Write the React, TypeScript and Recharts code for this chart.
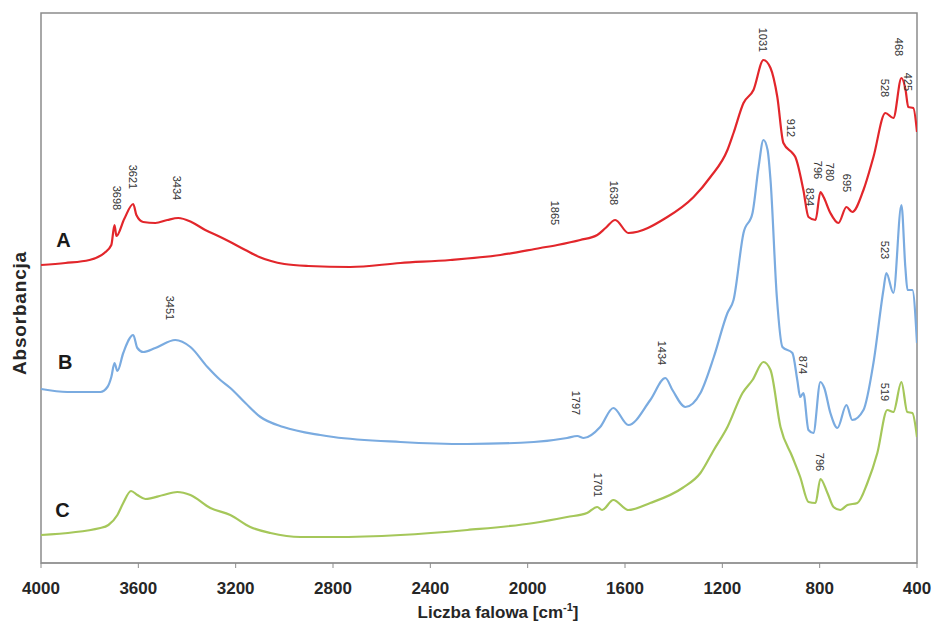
import React from 'react';
import { LineChart, Line, XAxis, YAxis, ReferenceArea, ReferenceDot } from 'recharts';

// Wavenumbers [cm-1] and absorbance (arbitrary, offset) for each spectrum
const wnA = [4000, 3900, 3801, 3740, 3711, 3698, 3690, 3658, 3621, 3608, 3580, 3530, 3481, 3436, 3382, 3325, 3263, 3222, 3160, 3103, 3000, 2901, 2729, 2523, 2318, 2112, 1948, 1878, 1784, 1714, 1680, 1640, 1586, 1426, 1318, 1249, 1179, 1154, 1113, 1072, 1031, 1002, 974, 949, 912, 900, 867, 846, 817, 797, 784, 756, 723, 690, 666, 620, 579, 530, 497, 464, 447, 436, 415, 400];
const absA = [298, 300, 303, 310, 318, 338, 327, 344, 359, 348, 341, 340, 343, 345, 341, 333, 326, 321, 313, 306, 299, 297, 296, 300, 303, 308, 315, 318, 323, 328, 335, 343, 330, 346, 366, 386, 413, 430, 460, 473, 503, 495, 466, 420, 410, 406, 373, 346, 343, 371, 366, 350, 340, 356, 351, 373, 406, 450, 445, 485, 473, 456, 455, 431];

const wnB = [4000, 3892, 3756, 3727, 3711, 3698, 3686, 3662, 3621, 3604, 3580, 3530, 3448, 3386, 3316, 3263, 3222, 3160, 3098, 3004, 2852, 2798, 2523, 2248, 1975, 1838, 1796, 1770, 1702, 1648, 1586, 1496, 1434, 1405, 1352, 1290, 1235, 1179, 1154, 1113, 1076, 1051, 1031, 1014, 1002, 976, 953, 912, 892, 880, 867, 846, 826, 797, 781, 756, 727, 690, 666, 620, 579, 538, 526, 497, 464, 448, 439, 419, 400];
const absB = [174, 171, 171, 176, 186, 200, 192, 210, 228, 215, 211, 215, 223, 216, 196, 183, 175, 160, 146, 136, 128, 126, 121, 119, 121, 125, 127, 125, 136, 155, 138, 163, 185, 173, 156, 170, 206, 250, 263, 330, 350, 396, 423, 413, 383, 266, 216, 210, 183, 166, 170, 133, 130, 181, 175, 150, 135, 158, 143, 153, 200, 273, 290, 270, 358, 296, 273, 273, 220];

const wnC = [4000, 3756, 3723, 3686, 3662, 3630, 3604, 3571, 3497, 3440, 3386, 3304, 3222, 3140, 3057, 2934, 2798, 2523, 2248, 1975, 1838, 1756, 1714, 1694, 1648, 1586, 1496, 1364, 1290, 1235, 1179, 1117, 1076, 1031, 1002, 961, 912, 880, 846, 817, 797, 768, 743, 715, 686, 645, 604, 563, 522, 497, 464, 440, 419, 400];
const absC = [28, 35, 38, 48, 60, 72, 68, 64, 68, 71, 68, 55, 48, 36, 30, 26, 26, 28, 33, 40, 46, 50, 56, 53, 63, 53, 60, 75, 90, 113, 136, 170, 183, 201, 193, 136, 106, 86, 61, 60, 84, 70, 56, 53, 58, 60, 80, 110, 153, 151, 181, 151, 150, 126];

const xTicks = [4000, 3600, 3200, 2800, 2400, 2000, 1600, 1200, 800, 400];

// Peak annotation texts and their anchor (wavenumber, absorbance)
const peakText = ['3698', '3621', '3434', '1865', '1638', '1031', '912', '796', '780', '834', '695', '528', '468', '425', '3451', '1797', '1434', '874', '523', '1701', '796', '519'];
const peakWn = [3686, 3620, 3440, 1886, 1644, 1031, 916, 805, 756, 838, 686, 530, 472, 435, 3468, 1800, 1446, 867, 530, 1709, 797, 530];
const peakAbs = [365, 386, 375, 350, 370, 523, 435, 393, 391, 366, 380, 475, 516, 481, 255, 160, 210, 198, 313, 78, 101, 171];

const seriesNames = ['A', 'B', 'C'];
const seriesLabelWn = [3908, 3900, 3912];
const seriesLabelAbs = [323, 201, 53];

const zip = (w: number[], a: number[]) => w.map((wn, i) => ({ wn, abs: a[i] }));
const dataA = zip(wnA, absA);
const dataB = zip(wnB, absB);
const dataC = zip(wnC, absC);

const FONT = '"Liberation Sans", Arial, sans-serif';

export default function App() {
  return (
    <div style={{ position: 'absolute', left: 0, top: 0, width: 932, height: 623, background: '#fff' }}>
      <LineChart width={932} height={623} margin={{ top: 13, right: 15, bottom: 0, left: 41 }}>
        <XAxis
          dataKey="wn"
          type="number"
          domain={[400, 4000]}
          reversed
          ticks={xTicks}
          allowDataOverflow
          height={60}
          tickSize={5}
          tickMargin={14}
          stroke="#8c8c8c"
          tick={{ fill: '#262626', fontSize: 17, fontWeight: 'bold', fontFamily: FONT }}
        />
        <YAxis type="number" domain={[0, 550]} hide allowDataOverflow />
        <ReferenceArea x1={4000} x2={400} y1={0} y2={550} fill="none" stroke="#8c8c8c" strokeWidth={1.5} />
        <Line data={dataA} dataKey="abs" stroke="#e2262b" strokeWidth={2.2} dot={false} type="monotone" isAnimationActive={false} />
        <Line data={dataB} dataKey="abs" stroke="#7aabe0" strokeWidth={2.2} dot={false} type="monotone" isAnimationActive={false} />
        <Line data={dataC} dataKey="abs" stroke="#a5c75a" strokeWidth={2.2} dot={false} type="monotone" isAnimationActive={false} />
        {peakText.map((t, i) => (
          <ReferenceDot
            key={'p' + i}
            x={peakWn[i]}
            y={peakAbs[i]}
            r={0}
            ifOverflow="visible"
            shape={(p: any) => (
              <text
                x={p.cx}
                y={p.cy}
                transform={`rotate(90 ${p.cx} ${p.cy})`}
                textAnchor="middle"
                dominantBaseline="central"
                fontSize={11}
                fill="#333"
                fontFamily={FONT}
              >
                {t}
              </text>
            )}
          />
        ))}
        {seriesNames.map((n, i) => (
          <ReferenceDot
            key={'s' + i}
            x={seriesLabelWn[i]}
            y={seriesLabelAbs[i]}
            r={0}
            ifOverflow="visible"
            shape={(p: any) => (
              <text
                x={p.cx}
                y={p.cy}
                textAnchor="middle"
                dominantBaseline="central"
                fontSize={20}
                fontWeight="bold"
                fill="#1a1a1a"
                fontFamily={FONT}
              >
                {n}
              </text>
            )}
          />
        ))}
      </LineChart>
      <div
        style={{
          position: 'absolute',
          left: 19,
          top: 313,
          transform: 'translate(-50%, -50%) rotate(-90deg)',
          fontFamily: FONT,
          fontWeight: 'bold',
          fontSize: 19,
          letterSpacing: 0.8,
          color: '#262626',
          whiteSpace: 'nowrap',
          lineHeight: 1,
        }}
      >
        Absorbancja
      </div>
      <div
        style={{
          position: 'absolute',
          left: 498,
          top: 612,
          transform: 'translate(-50%, -50%)',
          fontFamily: FONT,
          fontWeight: 'bold',
          fontSize: 17,
          color: '#262626',
          whiteSpace: 'nowrap',
          lineHeight: 1,
        }}
      >
        Liczba falowa [cm<sup style={{ fontSize: 11, verticalAlign: 'super', lineHeight: 0 }}>-1</sup>]
      </div>
    </div>
  );
}
